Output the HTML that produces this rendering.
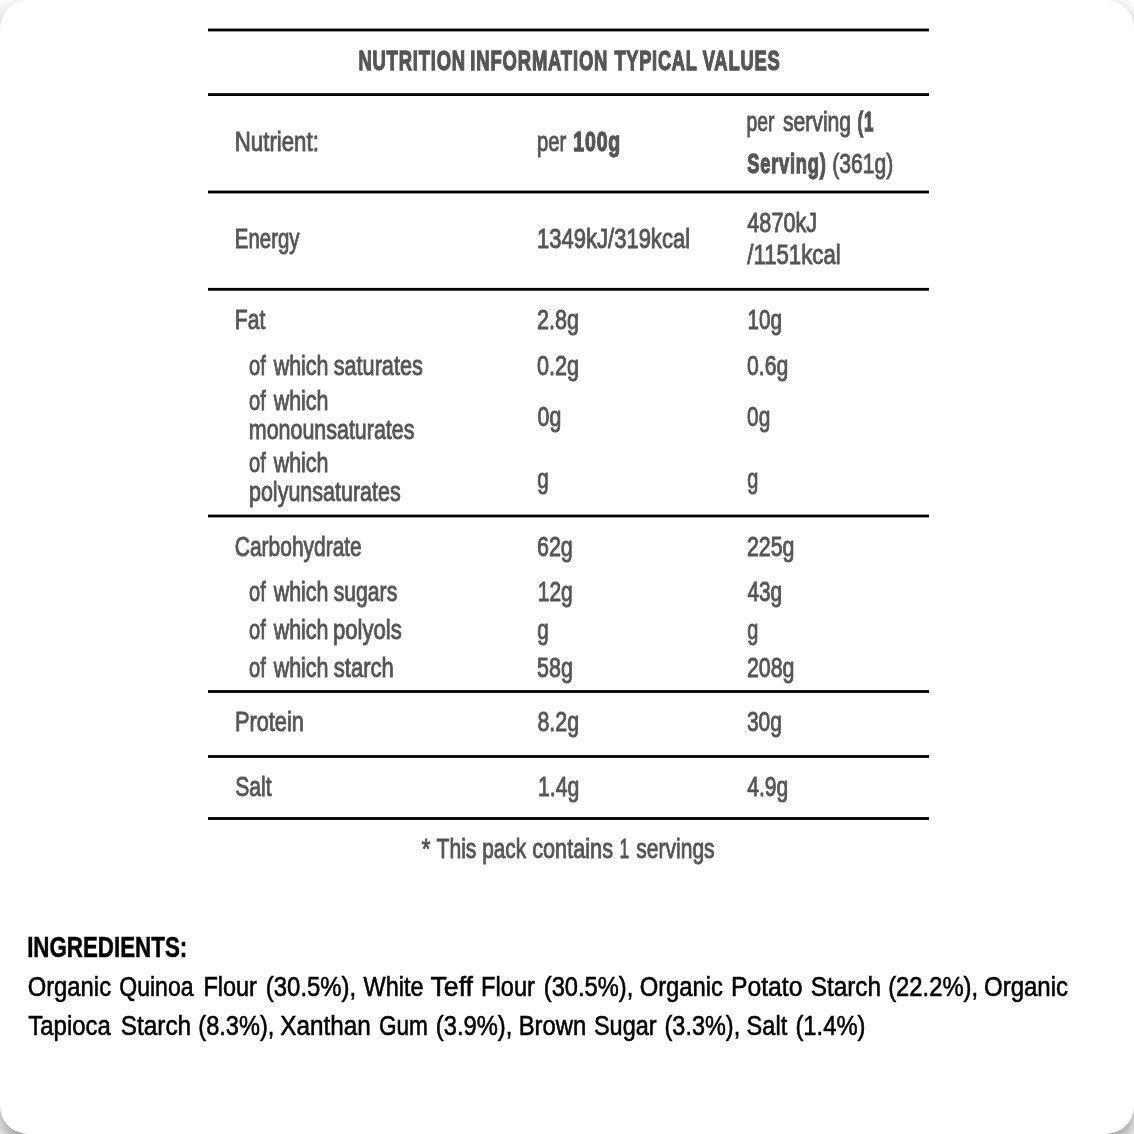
<!DOCTYPE html>
<html lang="en"><head><meta charset="utf-8"><title>Nutrition Information</title>
<style>
html,body{margin:0;padding:0;background:#fff}
body{width:1134px;height:1134px;overflow:hidden;position:relative}
.card{position:absolute;left:0;top:0;width:1134px;height:1134px;border-radius:28px;background:#fff;box-shadow:0 10px 20px rgba(0,0,0,.45)}
svg{position:absolute;left:0;top:0;display:block}
text{font-family:"Liberation Sans",sans-serif;white-space:pre}
.tr{font-size:28.4px;fill:#555555;stroke:#555555;stroke-width:0.9px}
.tb{font-size:27.8px;fill:#555555;stroke:#555555;stroke-width:1.3px;font-weight:700;letter-spacing:1.2px}
.kr{font-size:28.2px;fill:#000;stroke:#000;stroke-width:0.6px}
.kb{font-size:29.0px;fill:#000;stroke:#000;stroke-width:0.5px;font-weight:700}
</style></head><body>
<div class="card">
<svg width="1134" height="1134" viewBox="0 0 1134 1134" role="img" aria-label="Nutrition information and ingredients">
<g class="rules" fill="#000">
<rect x="208" y="28.60" width="721" height="2.8"/>
<rect x="208" y="93.20" width="721" height="2.8"/>
<rect x="208" y="190.60" width="721" height="2.8"/>
<rect x="208" y="287.90" width="721" height="2.8"/>
<rect x="208" y="514.60" width="721" height="2.8"/>
<rect x="208" y="690.10" width="721" height="2.8"/>
<rect x="208" y="755.10" width="721" height="2.8"/>
<rect x="208" y="817.10" width="721" height="2.8"/>
</g>
<g class="nutrition-table">
<text id="t0" class="tb" x="358.40" y="69.70" textLength="107.49" lengthAdjust="spacingAndGlyphs">NUTRITION</text>
<text id="t1" class="tb" x="470.37" y="69.70" textLength="137.89" lengthAdjust="spacingAndGlyphs">INFORMATION</text>
<text id="t2" class="tb" x="614.47" y="69.70" textLength="83.12" lengthAdjust="spacingAndGlyphs">TYPICAL</text>
<text id="t3" class="tb" x="702.68" y="69.70" textLength="77.88" lengthAdjust="spacingAndGlyphs">VALUES</text>
<text id="t4" class="tr" x="234.82" y="151.40" textLength="84.00" lengthAdjust="spacingAndGlyphs">Nutrient:</text>
<text id="t5" class="tr" x="536.97" y="151.40" textLength="29.31" lengthAdjust="spacingAndGlyphs">per</text>
<text id="t6" class="tb" x="573.32" y="151.40" textLength="47.82" lengthAdjust="spacingAndGlyphs">100g</text>
<text id="t7" class="tr" x="746.57" y="130.80" textLength="27.98" lengthAdjust="spacingAndGlyphs">per</text>
<text id="t8" class="tr" x="782.96" y="130.80" textLength="68.19" lengthAdjust="spacingAndGlyphs">serving</text>
<text id="t9" class="tb" x="857.50" y="130.80" textLength="16.61" lengthAdjust="spacingAndGlyphs">(1</text>
<text id="t10" class="tb" x="747.21" y="172.50" textLength="79.46" lengthAdjust="spacingAndGlyphs">Serving)</text>
<text id="t11" class="tr" x="832.29" y="172.50" textLength="61.11" lengthAdjust="spacingAndGlyphs">(361g)</text>
<text id="t12" class="tr" x="234.85" y="248.10" textLength="64.70" lengthAdjust="spacingAndGlyphs">Energy</text>
<text id="t13" class="tr" x="537.06" y="248.10" textLength="152.97" lengthAdjust="spacingAndGlyphs">1349kJ/319kcal</text>
<text id="t14" class="tr" x="747.35" y="231.60" textLength="69.72" lengthAdjust="spacingAndGlyphs">4870kJ</text>
<text id="t15" class="tr" x="747.31" y="263.50" textLength="93.42" lengthAdjust="spacingAndGlyphs">/1151kcal</text>
<text id="t16" class="tr" x="234.85" y="328.70" textLength="30.48" lengthAdjust="spacingAndGlyphs">Fat</text>
<text id="t17" class="tr" x="537.09" y="328.70" textLength="41.95" lengthAdjust="spacingAndGlyphs">2.8g</text>
<text id="t18" class="tr" x="747.53" y="328.70" textLength="34.50" lengthAdjust="spacingAndGlyphs">10g</text>
<text id="t19" class="tr" x="249.07" y="375.30" textLength="16.75" lengthAdjust="spacingAndGlyphs">of</text>
<text id="t20" class="tr" x="273.65" y="375.30" textLength="54.84" lengthAdjust="spacingAndGlyphs">which</text>
<text id="t21" class="tr" x="333.72" y="375.30" textLength="89.10" lengthAdjust="spacingAndGlyphs">saturates</text>
<text id="t22" class="tr" x="536.93" y="375.30" textLength="42.16" lengthAdjust="spacingAndGlyphs">0.2g</text>
<text id="t23" class="tr" x="747.05" y="375.30" textLength="41.31" lengthAdjust="spacingAndGlyphs">0.6g</text>
<text id="t24" class="tr" x="249.07" y="410.40" textLength="16.75" lengthAdjust="spacingAndGlyphs">of</text>
<text id="t25" class="tr" x="273.65" y="410.40" textLength="54.84" lengthAdjust="spacingAndGlyphs">which</text>
<text id="t26" class="tr" x="248.81" y="439.00" textLength="165.62" lengthAdjust="spacingAndGlyphs">monounsaturates</text>
<text id="t27" class="tr" x="537.57" y="425.80" textLength="23.66" lengthAdjust="spacingAndGlyphs">0g</text>
<text id="t28" class="tr" x="747.09" y="425.80" textLength="23.23" lengthAdjust="spacingAndGlyphs">0g</text>
<text id="t29" class="tr" x="249.07" y="471.80" textLength="16.75" lengthAdjust="spacingAndGlyphs">of</text>
<text id="t30" class="tr" x="273.65" y="471.80" textLength="54.84" lengthAdjust="spacingAndGlyphs">which</text>
<text id="t31" class="tr" x="248.95" y="501.20" textLength="151.79" lengthAdjust="spacingAndGlyphs">polyunsaturates</text>
<text id="t32" class="tr" x="537.34" y="488.00" textLength="11.50" lengthAdjust="spacingAndGlyphs">g</text>
<text id="t33" class="tr" x="747.34" y="488.00" textLength="11.08" lengthAdjust="spacingAndGlyphs">g</text>
<text id="t34" class="tr" x="234.81" y="556.00" textLength="126.98" lengthAdjust="spacingAndGlyphs">Carbohydrate</text>
<text id="t35" class="tr" x="536.97" y="556.00" textLength="35.85" lengthAdjust="spacingAndGlyphs">62g</text>
<text id="t36" class="tr" x="746.93" y="556.00" textLength="47.56" lengthAdjust="spacingAndGlyphs">225g</text>
<text id="t37" class="tr" x="249.07" y="601.10" textLength="16.75" lengthAdjust="spacingAndGlyphs">of</text>
<text id="t38" class="tr" x="273.65" y="601.10" textLength="54.84" lengthAdjust="spacingAndGlyphs">which</text>
<text id="t39" class="tr" x="333.73" y="601.10" textLength="63.51" lengthAdjust="spacingAndGlyphs">sugars</text>
<text id="t40" class="tr" x="537.74" y="601.10" textLength="35.00" lengthAdjust="spacingAndGlyphs">12g</text>
<text id="t41" class="tr" x="747.49" y="601.10" textLength="34.67" lengthAdjust="spacingAndGlyphs">43g</text>
<text id="t42" class="tr" x="249.07" y="639.20" textLength="16.75" lengthAdjust="spacingAndGlyphs">of</text>
<text id="t43" class="tr" x="273.65" y="639.20" textLength="54.84" lengthAdjust="spacingAndGlyphs">which</text>
<text id="t44" class="tr" x="332.92" y="639.20" textLength="68.81" lengthAdjust="spacingAndGlyphs">polyols</text>
<text id="t45" class="tr" x="537.34" y="639.20" textLength="11.50" lengthAdjust="spacingAndGlyphs">g</text>
<text id="t46" class="tr" x="747.34" y="639.20" textLength="11.08" lengthAdjust="spacingAndGlyphs">g</text>
<text id="t47" class="tr" x="249.07" y="677.00" textLength="16.75" lengthAdjust="spacingAndGlyphs">of</text>
<text id="t48" class="tr" x="273.65" y="677.00" textLength="54.84" lengthAdjust="spacingAndGlyphs">which</text>
<text id="t49" class="tr" x="333.74" y="677.00" textLength="60.11" lengthAdjust="spacingAndGlyphs">starch</text>
<text id="t50" class="tr" x="537.08" y="677.00" textLength="35.74" lengthAdjust="spacingAndGlyphs">58g</text>
<text id="t51" class="tr" x="746.93" y="677.00" textLength="47.56" lengthAdjust="spacingAndGlyphs">208g</text>
<text id="t52" class="tr" x="234.90" y="730.90" textLength="68.93" lengthAdjust="spacingAndGlyphs">Protein</text>
<text id="t53" class="tr" x="537.40" y="730.90" textLength="41.67" lengthAdjust="spacingAndGlyphs">8.2g</text>
<text id="t54" class="tr" x="746.95" y="730.90" textLength="35.02" lengthAdjust="spacingAndGlyphs">30g</text>
<text id="t55" class="tr" x="235.27" y="796.40" textLength="36.25" lengthAdjust="spacingAndGlyphs">Salt</text>
<text id="t56" class="tr" x="537.95" y="796.40" textLength="41.39" lengthAdjust="spacingAndGlyphs">1.4g</text>
<text id="t57" class="tr" x="747.32" y="796.40" textLength="40.94" lengthAdjust="spacingAndGlyphs">4.9g</text>
<text id="t58" class="tr" x="421.85" y="858.00" textLength="8.73" lengthAdjust="spacingAndGlyphs">*</text>
<text id="t59" class="tr" x="436.54" y="858.00" textLength="39.86" lengthAdjust="spacingAndGlyphs">This</text>
<text id="t60" class="tr" x="482.16" y="858.00" textLength="43.94" lengthAdjust="spacingAndGlyphs">pack</text>
<text id="t61" class="tr" x="532.22" y="858.00" textLength="80.76" lengthAdjust="spacingAndGlyphs">contains</text>
<text id="t62" class="tr" x="619.48" y="858.00" textLength="9.72" lengthAdjust="spacingAndGlyphs">1</text>
<text id="t63" class="tr" x="636.31" y="858.00" textLength="78.28" lengthAdjust="spacingAndGlyphs">servings</text>
</g>
<g class="ingredients">
<text id="t64" class="kb" x="27.14" y="956.60" textLength="160.09" lengthAdjust="spacingAndGlyphs">INGREDIENTS:</text>
<text id="t65" class="kr" x="27.66" y="995.80" textLength="83.38" lengthAdjust="spacingAndGlyphs">Organic</text>
<text id="t66" class="kr" x="119.22" y="995.80" textLength="74.33" lengthAdjust="spacingAndGlyphs">Quinoa</text>
<text id="t67" class="kr" x="203.43" y="995.80" textLength="53.51" lengthAdjust="spacingAndGlyphs">Flour</text>
<text id="t68" class="kr" x="265.87" y="995.80" textLength="90.29" lengthAdjust="spacingAndGlyphs">(30.5%),</text>
<text id="t69" class="kr" x="363.62" y="995.80" textLength="59.88" lengthAdjust="spacingAndGlyphs">White</text>
<text id="t70" class="kr" x="430.53" y="995.80" textLength="42.45" lengthAdjust="spacingAndGlyphs">Teff</text>
<text id="t71" class="kr" x="481.10" y="995.80" textLength="53.79" lengthAdjust="spacingAndGlyphs">Flour</text>
<text id="t72" class="kr" x="543.79" y="995.80" textLength="89.56" lengthAdjust="spacingAndGlyphs">(30.5%),</text>
<text id="t73" class="kr" x="639.68" y="995.80" textLength="83.29" lengthAdjust="spacingAndGlyphs">Organic</text>
<text id="t74" class="kr" x="730.90" y="995.80" textLength="71.52" lengthAdjust="spacingAndGlyphs">Potato</text>
<text id="t75" class="kr" x="810.64" y="995.80" textLength="70.48" lengthAdjust="spacingAndGlyphs">Starch</text>
<text id="t76" class="kr" x="888.20" y="995.80" textLength="89.90" lengthAdjust="spacingAndGlyphs">(22.2%),</text>
<text id="t77" class="kr" x="983.99" y="995.80" textLength="84.03" lengthAdjust="spacingAndGlyphs">Organic</text>
<text id="t78" class="kr" x="28.35" y="1034.70" textLength="82.48" lengthAdjust="spacingAndGlyphs">Tapioca</text>
<text id="t79" class="kr" x="120.66" y="1034.70" textLength="70.53" lengthAdjust="spacingAndGlyphs">Starch</text>
<text id="t80" class="kr" x="198.36" y="1034.70" textLength="75.95" lengthAdjust="spacingAndGlyphs">(8.3%),</text>
<text id="t81" class="kr" x="280.35" y="1034.70" textLength="90.49" lengthAdjust="spacingAndGlyphs">Xanthan</text>
<text id="t82" class="kr" x="378.91" y="1034.70" textLength="49.00" lengthAdjust="spacingAndGlyphs">Gum</text>
<text id="t83" class="kr" x="435.86" y="1034.70" textLength="76.50" lengthAdjust="spacingAndGlyphs">(3.9%),</text>
<text id="t84" class="kr" x="518.72" y="1034.70" textLength="67.60" lengthAdjust="spacingAndGlyphs">Brown</text>
<text id="t85" class="kr" x="593.95" y="1034.70" textLength="62.62" lengthAdjust="spacingAndGlyphs">Sugar</text>
<text id="t86" class="kr" x="664.53" y="1034.70" textLength="75.69" lengthAdjust="spacingAndGlyphs">(3.3%),</text>
<text id="t87" class="kr" x="746.62" y="1034.70" textLength="40.57" lengthAdjust="spacingAndGlyphs">Salt</text>
<text id="t88" class="kr" x="795.41" y="1034.70" textLength="70.12" lengthAdjust="spacingAndGlyphs">(1.4%)</text>
</g>
</svg>
</div>
</body></html>
